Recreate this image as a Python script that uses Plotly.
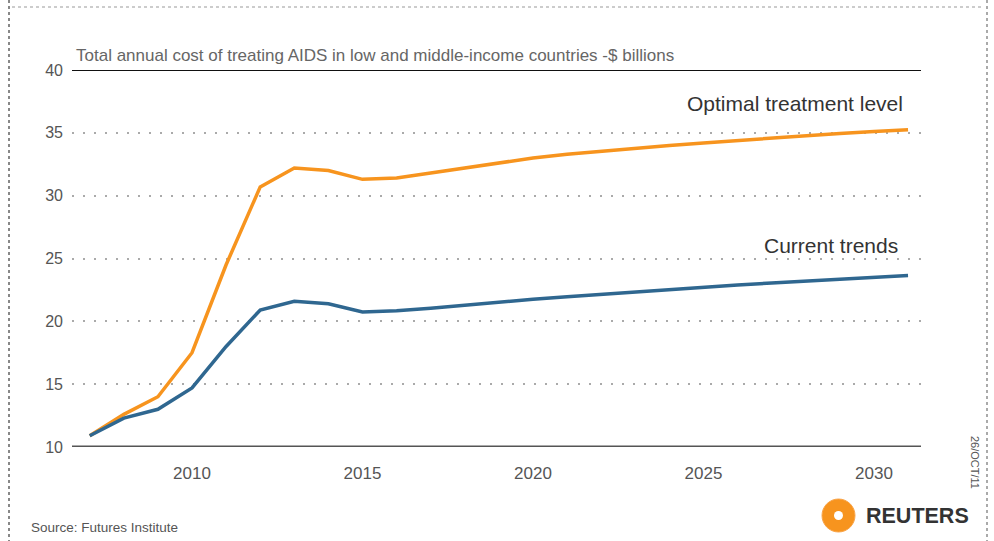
import plotly.graph_objects as go

years = list(range(2007, 2032))
optimal = [10.9, 12.6, 14.0, 17.5, 24.5, 30.7, 32.2, 32.0, 31.3, 31.4,
           31.8, 32.2, 32.6, 33.0, 33.3, 33.55, 33.8, 34.0, 34.2, 34.4,
           34.6, 34.8, 34.95, 35.1, 35.25]
current = [10.9, 12.3, 13.0, 14.7, 18.0, 20.9, 21.6, 21.4, 20.75, 20.85,
           21.05, 21.3, 21.5, 21.75, 21.95, 22.15, 22.35, 22.55, 22.75, 22.9,
           23.05, 23.2, 23.35, 23.5, 23.65]
y_ticks = [10, 15, 20, 25, 30, 35, 40]
x_ticks = [2010, 2015, 2020, 2025, 2030]

W, H = 994, 541
L, R, T, B = 72, 73, 70, 94
pw, ph = W - L - R, H - T - B

def px(x):
    return (x - L) / pw

def py(y):
    return 1 - (y - T) / ph

ORANGE = "#f7941e"
BLUE = "#2f6790"
FONT = "Liberation Sans, Arial"

fig = go.Figure()
fig.add_trace(go.Scatter(x=years, y=optimal, mode="lines",
                         line=dict(color=ORANGE, width=3.5), hoverinfo="skip"))
fig.add_trace(go.Scatter(x=years, y=current, mode="lines",
                         line=dict(color=BLUE, width=3.5), hoverinfo="skip"))

shapes = [
    dict(type="line", xref="paper", yref="y", x0=0, x1=1, y0=40, y1=40,
         line=dict(color="#111111", width=2)),
    dict(type="line", xref="paper", yref="y", x0=0, x1=1, y0=10, y1=10,
         line=dict(color="#555555", width=3)),
    dict(type="line", xref="paper", yref="paper", x0=px(9), x1=px(9), y0=py(0), y1=py(541),
         line=dict(color="#888888", width=2, dash="dot")),
    dict(type="line", xref="paper", yref="paper", x0=px(987), x1=px(987), y0=py(0), y1=py(541),
         line=dict(color="#aaaaaa", width=2, dash="dot")),
    dict(type="line", xref="paper", yref="paper", x0=px(12), x1=px(981), y0=py(7), y1=py(7),
         line=dict(color="#999999", width=1, dash="dot")),
    dict(type="circle", xref="paper", yref="paper", x0=px(822), x1=px(855), y0=py(532), y1=py(499),
         fillcolor=ORANGE, line=dict(color="#f9a54a", width=1)),
    dict(type="circle", xref="paper", yref="paper", x0=px(834), x1=px(843), y0=py(520), y1=py(511),
         fillcolor="white", line=dict(width=0)),
]

annotations = [
    dict(text="Total annual cost of treating AIDS in low and middle-income countries -$ billions",
         xref="paper", yref="paper", x=px(74), y=py(55), xanchor="left", yanchor="middle",
         showarrow=False, font=dict(family=FONT, size=17, color="#666666")),
    dict(text="Optimal treatment level", xref="paper", yref="paper", x=px(905), y=py(104),
         xanchor="right", yanchor="middle", showarrow=False,
         font=dict(family=FONT, size=21, color="#333333")),
    dict(text="Current trends", xref="paper", yref="paper", x=px(900), y=py(245),
         xanchor="right", yanchor="middle", showarrow=False,
         font=dict(family=FONT, size=21, color="#333333")),
    dict(text="Source: Futures Institute", xref="paper", yref="paper", x=px(29), y=py(527),
         xanchor="left", yanchor="middle", showarrow=False,
         font=dict(family=FONT, size=13.5, color="#555555")),
    dict(text="<b>REUTERS</b>", xref="paper", yref="paper", x=px(864), y=py(516),
         xanchor="left", yanchor="middle", showarrow=False,
         font=dict(family=FONT, size=21.5, color="#333333")),
    dict(text="26/OCT/11", xref="paper", yref="paper", x=px(975), y=py(462),
         xanchor="center", yanchor="middle", showarrow=False, textangle=90,
         font=dict(family=FONT, size=11, color="#555555")),
]

fig.update_layout(
    width=W, height=H,
    margin=dict(l=L, r=R, t=T, b=B),
    paper_bgcolor="white", plot_bgcolor="white",
    showlegend=False,
    shapes=shapes, annotations=annotations,
    xaxis=dict(range=[2006.48, 2031.38], tickvals=x_ticks, ticktext=[str(v) for v in x_ticks],
               showgrid=False, zeroline=False, showline=False, ticks="",
               tickfont=dict(family=FONT, size=17, color="#555555"),
               ticklabelstandoff=14),
    yaxis=dict(range=[10, 40], tickvals=y_ticks, ticktext=[str(v) for v in y_ticks],
               showgrid=True, gridcolor="#aaaaaa", griddash="2px,9px", gridwidth=1.5,
               zeroline=False, showline=False, ticks="",
               tickfont=dict(family=FONT, size=16, color="#555555"),
               ticklabelstandoff=8),
)

fig.write_html("out.html", config={"displayModeBar": False},
               post_script="document.body.style.margin='0';")
